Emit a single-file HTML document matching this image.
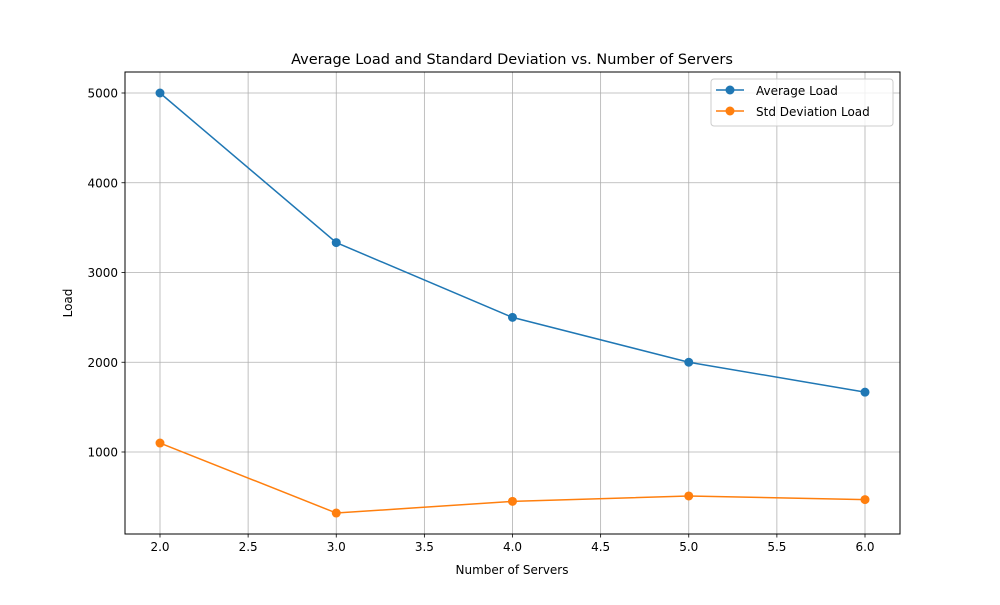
<!DOCTYPE html>
<html><head><meta charset="utf-8"><style>
body{margin:0;background:#fff;}
svg text{font-family:"DejaVu Sans","Liberation Sans",sans-serif;fill:#000;}
</style></head><body>
<svg id="chart" width="1000" height="600" xmlns="http://www.w3.org/2000/svg">
<rect width="1000" height="600" fill="#fff"/>
<g id="grid"></g>
<g id="series"></g>
<rect x="125" y="72" width="775" height="462" fill="none" stroke="#000" stroke-width="1"/>
<g id="axes"></g>
<text x="512" y="64" font-size="14.5" text-anchor="middle">Average Load and Standard Deviation vs. Number of Servers</text>
<text x="512" y="574" font-size="12" text-anchor="middle">Number of Servers</text>
<text x="72" y="303" font-size="12" text-anchor="middle" transform="rotate(-90 72 303)">Load</text>
<g>
<rect x="711" y="79" width="182" height="47" rx="3" fill="#fff" fill-opacity="0.8" stroke="#ccc"/>
<g>
<line x1="716" y1="90" x2="744" y2="90" stroke="#1f77b4" stroke-width="1.5"/><circle cx="730" cy="90" r="4.5" fill="#1f77b4"/>
<text x="756" y="95" font-size="12">Average Load</text></g>
<g>
<line x1="716" y1="111" x2="744" y2="111" stroke="#ff7f0e" stroke-width="1.5"/><circle cx="730" cy="111" r="4.5" fill="#ff7f0e"/>
<text x="756" y="116" font-size="12">Std Deviation Load</text></g>
</g>
</svg>
<script>
const servers=[2,3,4,5,6];
const avgLoad=[5000,3333,2500,2000,1667];
const stdLoad=[1100,320,450,510,470];
const xTicks=[2.0,2.5,3.0,3.5,4.0,4.5,5.0,5.5,6.0];
const yTicks=[1000,2000,3000,4000,5000];
const NS="http://www.w3.org/2000/svg";
function xs(v){return 160+(v-2)*176.25;}
function ys(v){return 541.75-v*0.08975;}
function mk(tag,attrs,parent){const e=document.createElementNS(NS,tag);for(const k in attrs)e.setAttribute(k,attrs[k]);parent.appendChild(e);return e;}
const grid=document.getElementById('grid'),axes=document.getElementById('axes'),ser=document.getElementById('series');
xTicks.forEach(t=>{const x=xs(t);
const g=mk('line',{x1:x,x2:x,y1:72,y2:534,stroke:'#b0b0b0','stroke-width':0.8},grid);


mk('line',{x1:x,x2:x,y1:534,y2:537.5,stroke:'#000','stroke-width':0.8},axes);
const l=mk('text',{x:x,y:551,'font-size':12,'text-anchor':'middle'},axes);l.textContent=t.toFixed(1);

});
yTicks.forEach(t=>{const y=ys(t);
const g=mk('line',{x1:125,x2:900,y1:y,y2:y,stroke:'#b0b0b0','stroke-width':0.8},grid);


mk('line',{x1:121.5,x2:125,y1:y,y2:y,stroke:'#000','stroke-width':0.8},axes);
const l=mk('text',{x:118,y:y+4.5,'font-size':12,'text-anchor':'end'},axes);l.textContent=t;

});
function draw(vals,color,name){
const p=mk('polyline',{points:servers.map((s,i)=>xs(s)+','+ys(vals[i])).join(' '),fill:'none',stroke:color,'stroke-width':1.5},ser);


servers.forEach((s,i)=>{const c=mk('circle',{cx:xs(s),cy:ys(vals[i]),r:4.5,fill:color},ser);

});}
draw(avgLoad,'#1f77b4','average-load');
draw(stdLoad,'#ff7f0e','std-deviation-load');
</script>
</body></html>
